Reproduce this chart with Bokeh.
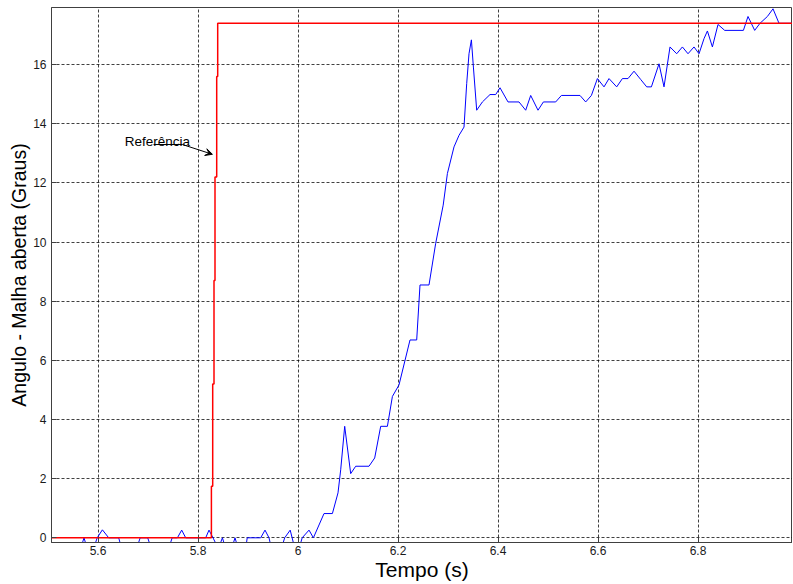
from bokeh.plotting import figure
from bokeh.models import Range1d, FixedTicker, Label, Arrow, VeeHead
from bokeh.embed import file_html
from bokeh.resources import INLINE

# ---- data ----
tempo_medido = [5.5073, 5.5674, 5.572, 5.5764, 5.5934, 5.5984, 5.6088, 5.6214, 5.6414, 5.6454,
                5.6794, 5.6844, 5.6994, 5.7044, 5.7434, 5.7484, 5.7588, 5.7674, 5.7754, 5.8154,
                5.822, 5.83, 5.8374, 5.8434, 5.8488, 5.8534, 5.8694, 5.874, 5.8784, 5.8964,
                5.8984, 5.9254, 5.934, 5.942, 5.9454, 5.9688, 5.9734, 5.9844, 5.992, 6.004,
                6.0084, 6.022, 6.0308, 6.052, 6.0688, 6.08, 6.0854, 6.0934, 6.1054, 6.1154,
                6.142, 6.1534, 6.1654, 6.1788, 6.1888, 6.202, 6.224, 6.2374, 6.244, 6.262,
                6.2754, 6.2904, 6.2988, 6.312, 6.322, 6.332, 6.3374, 6.342, 6.3468, 6.3508,
                6.3574, 6.3688, 6.384, 6.3954, 6.404, 6.42, 6.442, 6.4554, 6.4654, 6.48,
                6.4908, 6.5154, 6.5268, 6.564, 6.5754, 6.5868, 6.5988, 6.612, 6.622, 6.6374,
                6.6488, 6.66, 6.672, 6.6854, 6.6974, 6.7068, 6.722, 6.732, 6.744, 6.7574,
                6.7688, 6.78, 6.792, 6.802, 6.812, 6.8188, 6.8288, 6.84, 6.8534, 6.8908,
                6.9, 6.9134, 6.924, 6.9388, 6.95, 6.962, 6.9888, 6.99]
angulo_medido = [-0.25, -0.25, 0, -0.25, -0.25, 0, 0.27, 0, 0, -0.25,
                 -0.25, 0, 0, -0.25, -0.25, 0, 0, 0.26, 0, 0,
                 0.26, 0, -0.25, -0.25, 0, -0.25, -0.25, 0, -0.25, -0.25,
                 0, 0, 0.26, 0, -0.25, -0.25, 0, 0.26, -0.25, -0.25,
                 0, 0.26, 0, 0.82, 0.82, 1.52, 2.3, 3.77, 2.17, 2.42,
                 2.42, 2.7, 3.77, 3.77, 4.78, 5.17, 6.69, 6.69, 8.55, 8.55,
                 9.96, 11.25, 12.32, 13.22, 13.61, 13.89, 15.36, 16.37, 16.84, 15.92,
                 14.46, 14.74, 14.99, 14.99, 15.22, 14.74, 14.74, 14.46, 14.96, 14.46,
                 14.74, 14.74, 14.96, 14.96, 14.74, 14.96, 15.53, 15.25, 15.53, 15.25,
                 15.53, 15.53, 15.78, 15.5, 15.25, 15.25, 16.03, 15.25, 16.6, 16.37,
                 16.6, 16.37, 16.6, 16.37, 16.88, 17.14, 16.6, 17.36, 17.16, 17.16,
                 17.63, 17.16, 17.4, 17.63, 17.89, 17.4, 17.4, 17.5]

tempo_ref = [5.507, 5.8268, 5.8268, 5.8294, 5.8294, 5.832, 5.832, 5.834, 5.834,
             5.8374, 5.8374, 5.8394, 5.8394, 6.99]
angulo_ref = [0, 0, 1.74, 1.74, 5.2, 5.2, 8.7, 8.7, 12.2,
              12.2, 15.6, 15.6, 17.4, 17.4]

x_ticks = [5.6, 5.8, 6.0, 6.2, 6.4, 6.6, 6.8]
x_tick_labels = ["5.6", "5.8", "6", "6.2", "6.4", "6.6", "6.8"]
y_ticks = [0, 2, 4, 6, 8, 10, 12, 14, 16]

x_label = "Tempo (s)"
y_label = "Angulo - Malha aberta (Graus)"
anotacao = "Referência"

# annotation anchor points (data units)
anot_text_pos = (5.6534, 13.39)
anot_line_x = [5.7112, 5.7688]
anot_line_y = [13.30, 13.30]
anot_arrow_end = (5.8288, 12.97)

FONT = "Liberation Sans"

p = figure(width=792, height=583, output_backend="svg", toolbar_location=None,
           x_range=Range1d(5.507, 6.989), y_range=Range1d(-0.159, 17.934),
           min_border_left=51, min_border_right=0, min_border_top=7, min_border_bottom=40,
           x_axis_label=x_label, y_axis_label=y_label)

p.background_fill_color = "white"
p.border_fill_color = "white"
p.outline_line_color = "#404040"
p.outline_line_width = 1
p.outline_line_alpha = 1

p.xaxis.ticker = FixedTicker(ticks=x_ticks)
p.xaxis.major_label_overrides = {t: l for t, l in zip(x_ticks, x_tick_labels)}
p.yaxis.ticker = FixedTicker(ticks=y_ticks)

for ax in (p.xaxis[0], p.yaxis[0]):
    ax.axis_line_color = "#404040"
    ax.major_tick_line_color = "#404040"
    ax.major_tick_in = 5
    ax.major_tick_out = 0
    ax.minor_tick_in = 0
    ax.minor_tick_out = 0
    ax.major_label_text_font = FONT
    ax.major_label_text_font_size = "12px"
    ax.major_label_text_color = "#1a1a1a"
    ax.axis_label_text_font = FONT
    ax.axis_label_text_font_style = "normal"
    ax.axis_label_text_color = "black"
    ax.axis_label_standoff = 0
p.xaxis.major_label_standoff = 3
p.yaxis.major_label_standoff = 5
p.xaxis.axis_label_text_font_size = "21px"
p.yaxis.axis_label_text_font_size = "19.5px"

p.grid.grid_line_color = "black"
p.grid.grid_line_dash = "3 2"
p.grid.grid_line_alpha = 0.75
p.grid.grid_line_width = 1

p.line(tempo_medido, angulo_medido, line_color="#0000ff", line_width=1)
p.line(tempo_ref, angulo_ref, line_color="#ff0000", line_width=1.5)

p.add_layout(Label(x=anot_text_pos[0], y=anot_text_pos[1], text=anotacao,
                   text_font=FONT, text_font_size="13.5px", text_color="black",
                   text_baseline="alphabetic", text_align="left"))
p.line(anot_line_x, anot_line_y, line_color="black", line_width=1)
p.add_layout(Arrow(end=VeeHead(size=7, fill_color="black", line_color="black"),
                   x_start=anot_line_x[-1], y_start=anot_line_y[-1],
                   x_end=anot_arrow_end[0], y_end=anot_arrow_end[1],
                   line_color="black", line_width=1))

open("out.html", "w").write(file_html(p, INLINE))
